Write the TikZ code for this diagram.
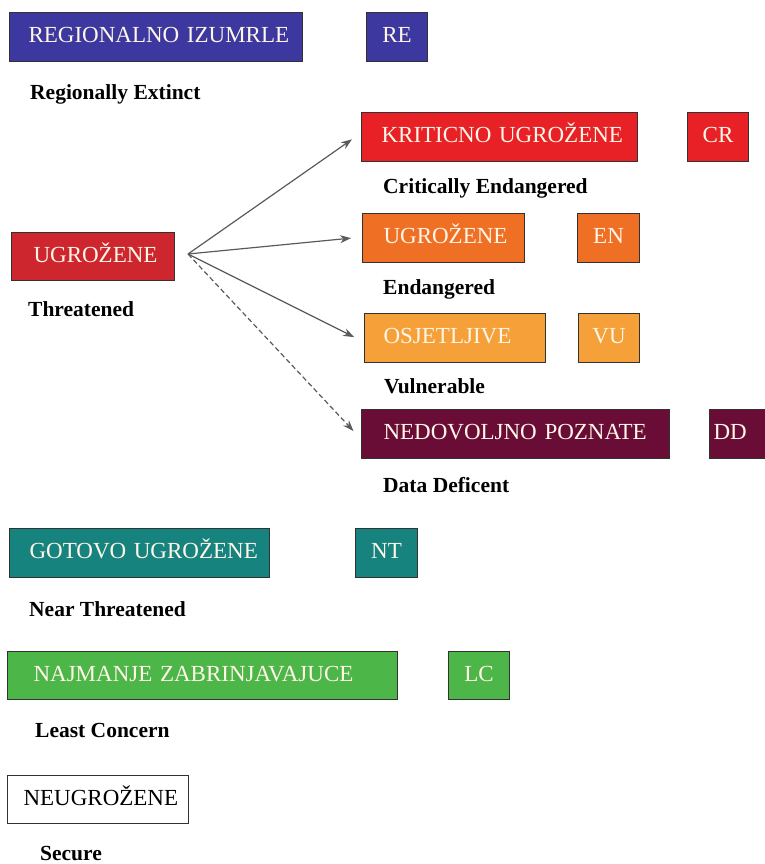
\documentclass[tikz,border=0pt]{standalone}
\usepackage{fontspec}
\setmainfont{Liberation Serif}
\usetikzlibrary{arrows.meta}
\definecolor{cblue}{RGB}{60,56,160}
\definecolor{cred}{RGB}{206,38,46}
\definecolor{cred2}{RGB}{232,33,39}
\definecolor{corange}{RGB}{239,111,36}
\definecolor{clorange}{RGB}{246,160,58}
\definecolor{cmaroon}{RGB}{106,13,54}
\definecolor{cteal}{RGB}{22,131,127}
\definecolor{cgreen}{RGB}{77,182,72}
\definecolor{ctext}{RGB}{255,246,232}
\definecolor{cborder}{RGB}{50,50,50}
\definecolor{carrow}{RGB}{90,90,90}
\tikzset{
  catbox/.style={draw=cborder, line width=1.1pt, anchor=north west, inner ysep=0pt,
    font=\fontsize{23}{23}\selectfont, text=ctext, text height=15pt, text depth=4pt},
  lbox/.style={catbox, align=left},
  lbl/.style={anchor=base west, inner sep=0pt, font=\fontsize{21.5}{21.5}\selectfont\bfseries},
  arr/.style={draw=carrow, line width=1.2pt, -{Stealth[length=11pt,width=8pt]}, shorten >=11pt},
}
\begin{document}
\begin{tikzpicture}[x=1pt,y=-1pt]
\useasboundingbox (0,0) rectangle (765,864);
% Regionally extinct
\node[lbox, fill=cblue, minimum width=293, minimum height=49, inner xsep=19pt, text width=255pt] (rebig) at (9,12) {\mbox{REGIONALNO IZUMRLE}};
\node[catbox, fill=cblue, minimum width=61, minimum height=49] (re) at (366,12) {RE};
\node[lbl] (relbl) at (30,100) {Regionally Extinct};
% Threatened
\node[lbox, fill=cred, minimum width=163, minimum height=48, inner xsep=22pt, text width=119pt] (ugro) at (11,232) {\mbox{UGROŽENE}};
\node[lbl] (ugrolbl) at (28,316) {Threatened};
\coordinate (src) at (188,254);
% CR
\node[lbox, fill=cred2, minimum width=276, minimum height=49, inner xsep=20pt, text width=236pt] (crbig) at (361,112) {\mbox{KRITICNO UGROŽENE}};
\node[catbox, fill=cred2, minimum width=61, minimum height=49] (cr) at (687,112) {CR};
\node[lbl] (crlbl) at (383,193) {Critically Endangered};
% EN
\node[lbox, fill=corange, minimum width=162, minimum height=49, inner xsep=21pt, text width=120pt] (enbig) at (362,213) {\mbox{UGROŽENE}};
\node[catbox, fill=corange, minimum width=62, minimum height=49] (en) at (577,213) {EN};
\node[lbl] (enlbl) at (383,294) {Endangered};
% VU
\node[lbox, fill=clorange, minimum width=181, minimum height=49, inner xsep=19pt, text width=143pt] (vubig) at (364,313) {\mbox{OSJETLJIVE}};
\node[catbox, fill=clorange, minimum width=61, minimum height=49] (vu) at (578,313) {VU};
\node[lbl] (vulbl) at (384,393) {Vulnerable};
% DD
\node[lbox, fill=cmaroon, minimum width=308, minimum height=49, inner xsep=22pt, text width=264pt] (ddbig) at (361,409) {\mbox{NEDOVOLJNO POZNATE}};
\node[lbox, fill=cmaroon, minimum width=66, minimum height=49, inner xsep=4pt, text width=58pt] (dd) at (709,409) {\mbox{DD}};
\node[lbl] (ddlbl) at (383,492) {Data Deficent};
% arrows
\draw[arr] (src) -- ([yshift=4pt]crbig.west);
\draw[arr] (src) -- ([yshift=1pt]enbig.west);
\draw[arr] (src) -- ([yshift=-4pt]vubig.west);
\draw[arr, dash pattern=on 5pt off 3pt] (src) -- ([yshift=-5pt]ddbig.west);
% NT
\node[lbox, fill=cteal, minimum width=260, minimum height=49, inner xsep=20pt, text width=220pt] (ntbig) at (9,528) {\mbox{GOTOVO UGROŽENE}};
\node[catbox, fill=cteal, minimum width=62, minimum height=49] (nt) at (355,528) {NT};
\node[lbl] (ntlbl) at (29,616) {Near Threatened};
% LC
\node[lbox, fill=cgreen, minimum width=390, minimum height=48, inner xsep=26pt, text width=338pt] (lcbig) at (7,651) {\mbox{NAJMANJE ZABRINJAVAJUCE}};
\node[catbox, fill=cgreen, minimum width=61, minimum height=48] (lc) at (448,651) {LC};
\node[lbl] (lclbl) at (35,737) {Least Concern};
% Secure
\node[lbox, fill=white, text=black, minimum width=181, minimum height=48, inner xsep=16pt, text width=149pt] (neu) at (7,775) {\mbox{NEUGROŽENE}};
\node[lbl] (neulbl) at (40,860) {Secure};
\end{tikzpicture}
\end{document}
